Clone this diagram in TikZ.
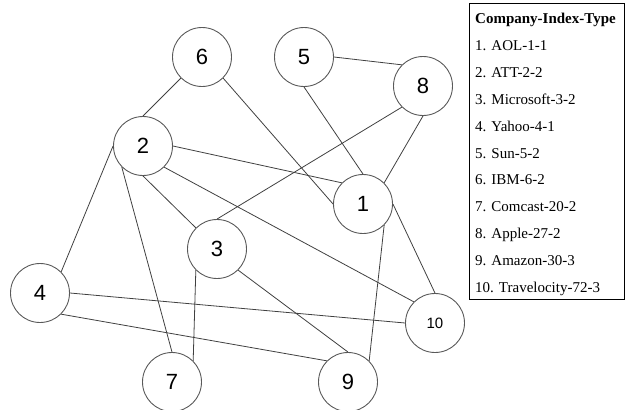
\documentclass[tikz,border=0pt]{standalone}
\usepackage{fontspec}
\setmainfont{Liberation Serif}
\newfontfamily\numfont{Liberation Sans}
\begin{document}
\begin{tikzpicture}[x=1pt,y=-1pt,
  circ/.style={circle,draw=black!65,line width=0.9pt,minimum size=59pt,inner sep=0pt,font=\numfont\fontsize{22}{24}\selectfont},
  small/.style={font=\numfont\fontsize{15}{17}\selectfont},
  edge/.style={draw=black!75,line width=0.8pt},
  legtxt/.style={anchor=base west,inner sep=0pt,font=\fontsize{15}{17}\selectfont}]
\useasboundingbox (0,0) rectangle (625,410);
\node[circ] (n6) at (202,57) {6};
\node[circ] (n5) at (304,57) {5};
\node[circ] (n8) at (423,86) {8};
\node[circ] (n2) at (143,146) {2};
\node[circ] (n1) at (363,204) {1};
\node[circ] (n3) at (217,249) {3};
\node[circ] (n4) at (40,293) {4};
\node[circ,small] (n10) at (435,323) {10};
\node[circ] (n7) at (172,382) {7};
\node[circ] (n9) at (348,382) {9};
\draw[edge] (n6.south west) -- (n2.north);
\draw[edge] (n6.south east) -- (n1.west);
\draw[edge] (n5.east) -- (n8.north west);
\draw[edge] (n5.south) -- (n1.north);
\draw[edge] (n8.south) -- (n1.north east);
\draw[edge] (n8.south west) -- (n3.north);
\draw[edge] (n2.east) -- (n1.north west);
\draw[edge] (n2.south) -- (n3.north west);
\draw[edge] (n2.south east) -- (n10.north west);
\draw[edge] (n2.west) -- (n4.north east);
\draw[edge] (n2.south west) -- (n7.north);
\draw[edge] (n1.south east) -- (n9.north east);
\draw[edge] (n1.east) -- (n10.north);
\draw[edge] (n3.south west) -- (n7.north east);
\draw[edge] (n3.south east) -- (n9.north);
\draw[edge] (n4.east) -- (n10.west);
\draw[edge] (n4.south east) -- (n9.north west);
\node[draw=black,line width=0.8pt,minimum width=155pt,minimum height=296pt,anchor=north west,inner sep=0pt] (leg) at (469,3) {};
\node[legtxt,font=\bfseries\fontsize{15}{17}\selectfont] (h) at (475,23) {Company-Index-Type};
\node[legtxt] (r1) at (475,50) {1. AOL-1-1};
\node[legtxt] (r2) at (475,77) {2. ATT-2-2};
\node[legtxt] (r3) at (475,104) {3. Microsoft-3-2};
\node[legtxt] (r4) at (475,131) {4. Yahoo-4-1};
\node[legtxt] (r5) at (475,158) {5. Sun-5-2};
\node[legtxt] (r6) at (475,184) {6. IBM-6-2};
\node[legtxt] (r7) at (475,211) {7. Comcast-20-2};
\node[legtxt] (r8) at (475,238) {8. Apple-27-2};
\node[legtxt] (r9) at (475,265) {9. Amazon-30-3};
\node[legtxt] (r10) at (475,292) {10. Travelocity-72-3};
\end{tikzpicture}
\end{document}
